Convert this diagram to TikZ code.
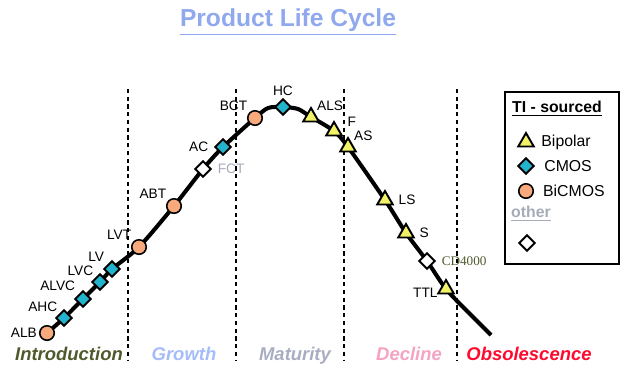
\documentclass[tikz,border=0pt]{standalone}
\usepackage{fontspec}
\setmainfont{Liberation Sans}
\newfontfamily\cdfont{Liberation Serif}
\usetikzlibrary{shapes.geometric,backgrounds,positioning}
\definecolor{bipyel}{HTML}{F2F266}
\definecolor{cmoscy}{HTML}{22B4CC}
\definecolor{bicor}{HTML}{F8AA7C}
\definecolor{ttlblue}{HTML}{8FA8EE}
\definecolor{introcol}{HTML}{4E5A2C}
\definecolor{growcol}{HTML}{A6BCFA}
\definecolor{matcol}{HTML}{AAADC2}
\definecolor{deccol}{HTML}{F5A3C3}
\definecolor{obscol}{HTML}{FF0A2E}
\definecolor{othgray}{HTML}{A7ABB8}
\newcommand{\legfont}{\fontsize{9}{11}\selectfont}
\newcommand{\phfont}{\bfseries\itshape\fontsize{10.5}{12}\selectfont}

\begin{document}
\begin{tikzpicture}[x=0.02cm,y=-0.02cm,
   bip/.style={regular polygon,regular polygon sides=3,draw,fill=bipyel,line width=1.1pt,minimum size=0.36cm,inner sep=0pt},
   cmos/.style={diamond,draw,fill=cmoscy,line width=1.1pt,minimum size=0.33cm,inner sep=0pt},
   bicmos/.style={circle,draw,fill=bicor,line width=0.9pt,minimum size=0.29cm,inner sep=0pt},
   oth/.style={diamond,draw,fill=white,line width=1.1pt,minimum size=0.33cm,inner sep=0pt},
   sep/.style={dash pattern=on 2.4pt off 2pt,line width=0.9pt},
   phase/.style={font=\phfont,anchor=base},
   every label/.style={font=\fontsize{7.8}{9}\selectfont,inner sep=1pt}]
  \useasboundingbox (0,0) rectangle (630,380);

  \node[text=ttlblue,font=\bfseries\fontsize{14}{16}\selectfont] (title) at (288,22) {\underline{Product Life Cycle}};

  \foreach \x in {128,236,344,457}
    \draw[sep] (\x,89) -- (\x,360);

  \node[bicmos,label=left:ALB] (alb) at (47,333) {};
  \node[cmos,label=above left:AHC] (ahc) at (64,318) {};
  \node[cmos,label={[label distance=1pt]above left:ALVC}] (alvc) at (83,299) {};
  \node[cmos,label=above left:LVC] (lvc) at (100,282) {};
  \node[cmos,label={[label distance=1pt]above left:LV}] (lv) at (112,269) {};
  \node[bicmos,label=above left:LVT] (lvt) at (139,247) {};
  \node[bicmos,label=above left:ABT] (abt) at (174,206) {};
  \node[oth,label={[text=othgray,label distance=2pt]right:FCT}] (fct) at (203,169) {};
  \node[cmos,label={[label distance=2pt]left:AC}] (ac) at (223,147) {};
  \node[bicmos,label=above left:BCT] (bct) at (255,118) {};
  \node[cmos,label=above:HC] (hc) at (283,107) {};
  \node[bip,label=above right:ALS] (als) at (311,117) {};
  \node[bip,label={[label distance=3pt,yshift=5pt]right:F}] (f) at (334,131) {};
  \node[bip,label=above right:AS] (as) at (348,147) {};
  \node[bip,label={[label distance=3pt]right:LS}] (ls) at (385,200) {};
  \node[bip,label={[label distance=3pt]right:S}] (s) at (406,233) {};
  \node[oth,label={[font=\cdfont\fontsize{7.5}{9}\selectfont,text=introcol,label distance=2pt]right:CD4000}] (cd) at (427,261) {};
  \node[bip,label={[yshift=-2pt]left:TTL}] (ttl) at (446,289) {};
  \coordinate (pk1) at (268,108);
  \coordinate (pk2) at (298,109);
  \coordinate (tl1) at (469,313);
  \coordinate (tail) at (491,335);

  \begin{scope}[on background layer]
    \draw[line width=2.3pt] plot[smooth,tension=0.45] coordinates {(alb.center) (ahc.center) (alvc.center) (lvc.center) (lv.center) (lvt.center) (abt.center) (fct.center) (ac.center) (bct.center) (pk1) (hc.center) (pk2) (als.center) (f.center) (as.center) (ls.center) (s.center) (cd.center) (ttl.center) (tl1) (tail)};
  \end{scope}

  \node[phase,text=introcol] (intro) at (69,360) {Introduction};
  \node[phase,text=growcol] (grow) at (184,360) {Growth};
  \node[phase,text=matcol] (mat) at (295,360) {Maturity};
  \node[phase,text=deccol] (dec) at (409,360) {Decline};
  \node[phase,text=obscol] (obs) at (529,360) {Obsolescence};

  \draw[line width=1.1pt] (505,92) rectangle (619,264);
  \node[font=\bfseries\legfont] (ti) at (557,109) {\underline{TI - sourced}};
  \node[bip,label={[font=\legfont,label distance=4pt]right:Bipolar}] (kbip) at (526,142) {};
  \node[cmos,label={[font=\legfont,label distance=4pt]right:CMOS}] (kcmos) at (526,166) {};
  \node[bicmos,label={[font=\legfont,label distance=4pt]right:BiCMOS}] (kbic) at (526,191) {};
  \node[text=othgray,font=\bfseries\legfont] (koth) at (531,214) {\underline{other}};
  \node[oth] (kx) at (527,243) {};
\end{tikzpicture}
\end{document}
